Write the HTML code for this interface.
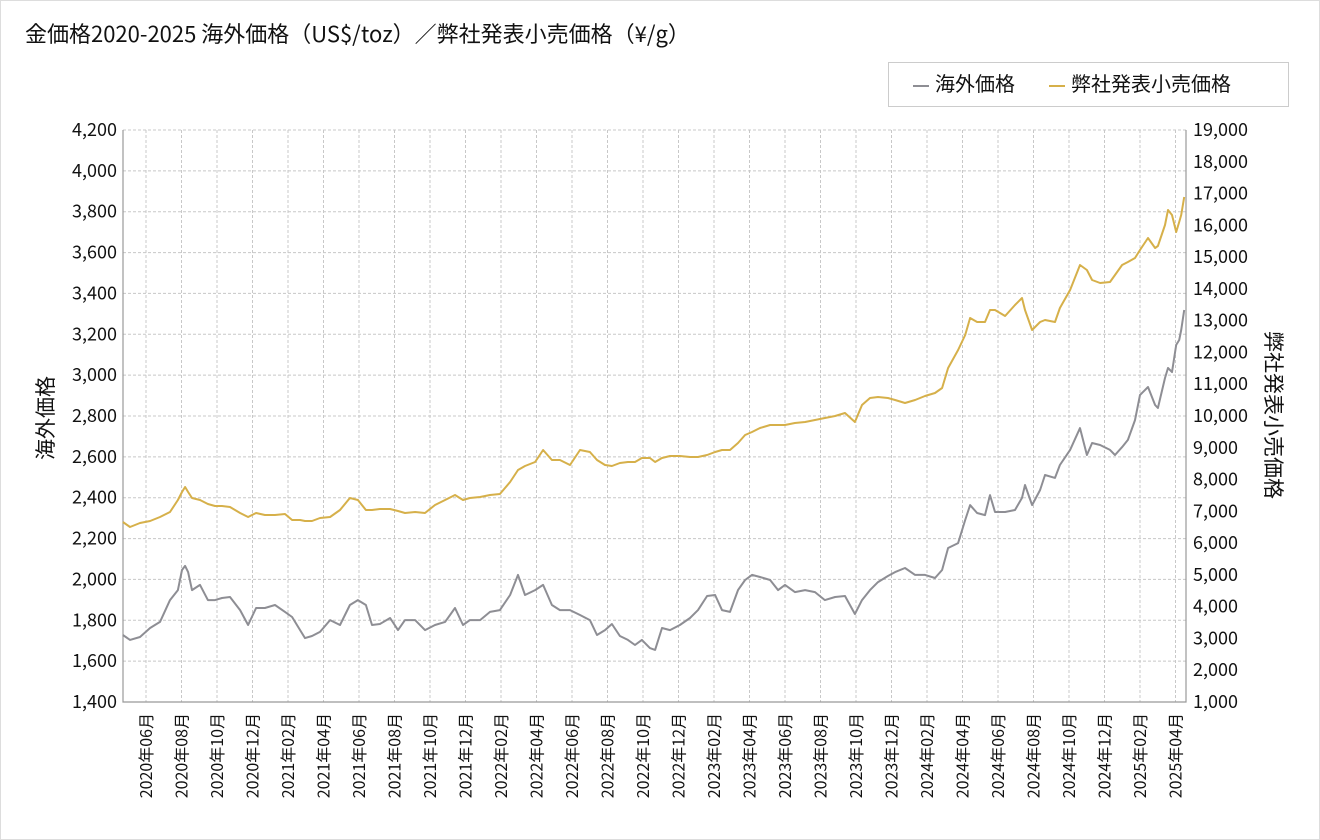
<!DOCTYPE html>
<html><head><meta charset="utf-8">
<style>
html,body{margin:0;padding:0;background:#fff;}
body{width:1320px;height:840px;overflow:hidden;position:relative;font-family:"Noto Sans CJK JP","Liberation Sans",sans-serif;}
#frame{position:absolute;left:0;top:0;width:1318px;height:838px;border:1px solid #ddd;}
#title{position:absolute;left:25px;top:20px;font-size:22px;color:#111;white-space:nowrap;line-height:1.2;}
#legend{position:absolute;left:888px;top:62px;width:399px;height:43px;border:1px solid #ccc;font-size:20px;color:#111;}
.lg{position:absolute;top:7px;white-space:nowrap;line-height:1.3;}
.sw{display:inline-block;width:16px;height:2px;vertical-align:middle;margin-right:6px;}
svg{position:absolute;left:0;top:0;font-family:"Noto Sans CJK JP","Liberation Sans",sans-serif;}
</style></head><body>
<div id="frame"></div>
<div id="title">金価格2020-2025 海外価格（US$/toz）／弊社発表小売価格（¥/g）</div>
<div id="legend">
  <div class="lg" style="left:24px"><span class="sw" style="background:#8e8e94"></span>海外価格</div>
  <div class="lg" style="left:160px"><span class="sw" style="background:#d6b04a"></span>弊社発表小売価格</div>
</div>
<svg id="chart" width="1320" height="840"></svg>
<script>
// months since 2020-06 (time of each observation)
const months=[-1.3,-0.9,-0.34,0.23,0.79,1.35,1.8,2.03,2.2,2.37,2.59,3.04,3.49,3.89,4.28,4.73,5.3,5.75,6.2,6.7,7.27,7.83,8.23,8.68,8.96,9.35,9.8,10.37,10.93,11.49,11.94,12.39,12.73,13.18,13.75,14.2,14.59,15.16,15.72,16.28,16.85,17.41,17.86,18.25,18.82,19.38,19.94,20.51,20.96,21.35,21.92,22.37,22.87,23.32,23.89,24.45,25.01,25.41,25.86,26.25,26.7,27.15,27.55,27.94,28.39,28.68,29.07,29.52,30.08,30.65,31.1,31.61,32.06,32.45,32.9,33.35,33.75,34.14,34.59,35.16,35.61,36,36.56,37.13,37.69,38.25,38.82,39.38,39.94,40.34,40.79,41.24,41.8,42.2,42.76,43.33,43.89,44.45,44.85,45.19,45.75,46.15,46.43,46.82,47.27,47.55,47.83,48.4,48.96,49.35,49.52,49.92,50.37,50.65,51.21,51.49,52.06,52.62,53.01,53.3,53.75,54.31,54.59,54.99,55.32,55.72,56,56.45,56.85,57.01,57.41,57.58,57.8,58.04,58.21,58.32,58.49];
const overseas=[1728,1704,1718,1762,1792,1899,1948,2046,2066,2036,1948,1973,1899,1899,1909,1914,1850,1777,1860,1860,1875,1841,1816,1752,1713,1723,1743,1801,1777,1875,1899,1875,1777,1782,1811,1752,1801,1801,1752,1777,1792,1860,1777,1801,1801,1841,1850,1924,2022,1924,1948,1973,1875,1850,1850,1826,1801,1728,1752,1782,1723,1704,1679,1704,1664,1655,1762,1752,1777,1811,1850,1919,1924,1850,1841,1948,1997,2022,2012,1997,1948,1973,1938,1948,1938,1899,1914,1919,1831,1899,1948,1987,2017,2036,2056,2022,2022,2007,2046,2154,2178,2291,2364,2325,2315,2413,2330,2330,2340,2399,2462,2364,2438,2511,2497,2560,2634,2741,2609,2668,2658,2634,2609,2648,2683,2780,2903,2942,2854,2839,2986,3035,3015,3148,3172,3221,3319];
const retail=[6664,6507,6633,6695,6821,6979,7356,7608,7765,7608,7419,7356,7230,7167,7167,7136,6947,6821,6947,6884,6884,6916,6727,6727,6695,6695,6790,6821,7041,7419,7356,7041,7041,7073,7073,7010,6947,6979,6947,7199,7356,7513,7356,7419,7450,7513,7545,7922,8300,8426,8552,8930,8615,8615,8458,8930,8867,8615,8458,8426,8521,8552,8552,8678,8678,8552,8678,8741,8741,8710,8710,8772,8867,8930,8930,9150,9402,9496,9622,9716,9716,9716,9779,9811,9874,9937,9999,10094,9811,10346,10566,10597,10566,10503,10409,10503,10629,10723,10881,11510,12077,12549,13084,12958,12958,13336,13336,13147,13493,13713,13336,12706,12958,13021,12958,13399,13966,14752,14594,14280,14185,14217,14437,14752,14846,14972,15224,15601,15287,15350,16010,16482,16325,15790,16105,16325,16891];
const leftTicks=[1400,1600,1800,2000,2200,2400,2600,2800,3000,3200,3400,3600,3800,4000,4200];
const rightTicks=[1000,2000,3000,4000,5000,6000,7000,8000,9000,10000,11000,12000,13000,14000,15000,16000,17000,18000,19000];
const xLabels=["2020年06月","2020年08月","2020年10月","2020年12月","2021年02月","2021年04月","2021年06月","2021年08月","2021年10月","2021年12月","2022年02月","2022年04月","2022年06月","2022年08月","2022年10月","2022年12月","2023年02月","2023年04月","2023年06月","2023年08月","2023年10月","2023年12月","2024年02月","2024年04月","2024年06月","2024年08月","2024年10月","2024年12月","2025年02月","2025年04月"];

const L=123,R=1186,T=130,B=702;
const x=m=>146+m*17.75;
const yL=v=>B-(v-1400)/(4200-1400)*(B-T);
const yR=v=>B-(v-1000)/(19000-1000)*(B-T);
const NS="http://www.w3.org/2000/svg";
const svg=document.getElementById('chart');
function mk(tag,attrs){const e=document.createElementNS(NS,tag);for(const k in attrs)e.setAttribute(k,attrs[k]);svg.appendChild(e);return e;}
const fmt=v=>v.toLocaleString('en-US');

leftTicks.forEach(v=>{
  const g=mk('line',{x1:L,x2:R,y1:yL(v),y2:yL(v),stroke:'#c8c8c8','stroke-dasharray':'3,2','stroke-width':1});
  
  
  const t=mk('text',{x:L-6,y:yL(v)+6,'text-anchor':'end','font-size':18,fill:'#111'});
  t.textContent=fmt(v);
  
  
});
rightTicks.forEach(v=>{
  const t=mk('text',{x:R+7,y:yR(v)+6,'text-anchor':'start','font-size':18,fill:'#111'});
  t.textContent=fmt(v);
  
  
});
xLabels.forEach((s,i)=>{
  const xx=x(i*2);
  const g=mk('line',{x1:xx,x2:xx,y1:T,y2:B,stroke:'#c8c8c8','stroke-dasharray':'3,2','stroke-width':1});
  
  
  const t=mk('text',{x:0,y:0,'text-anchor':'end','font-size':16,fill:'#111',transform:`translate(${xx+6},${B+11}) rotate(-90)`});
  t.textContent=s;
  
  
});
const ax=mk('path',{d:`M${L},${T}V${B}H${R}V${T}`,fill:'none',stroke:'#999','stroke-width':1.2});



const p1=mk('path',{d:months.map((m,i)=>(i?'L':'M')+x(m).toFixed(1)+','+yL(overseas[i]).toFixed(1)).join(''),fill:'none',stroke:'#8e8e94','stroke-width':2,'stroke-linejoin':'round'});


const p2=mk('path',{d:months.map((m,i)=>(i?'L':'M')+x(m).toFixed(1)+','+yR(retail[i]).toFixed(1)).join(''),fill:'none',stroke:'#d6b04a','stroke-width':2,'stroke-linejoin':'round'});



const lt=mk('text',{x:0,y:0,'text-anchor':'middle','font-size':21,fill:'#111',transform:'translate(53,418) rotate(-90)'});
lt.textContent='海外価格';


const rt=mk('text',{x:0,y:0,'text-anchor':'middle','font-size':21,fill:'#111',transform:'translate(1266,415) rotate(90)'});
rt.textContent='弊社発表小売価格';


</script>
</body></html>
